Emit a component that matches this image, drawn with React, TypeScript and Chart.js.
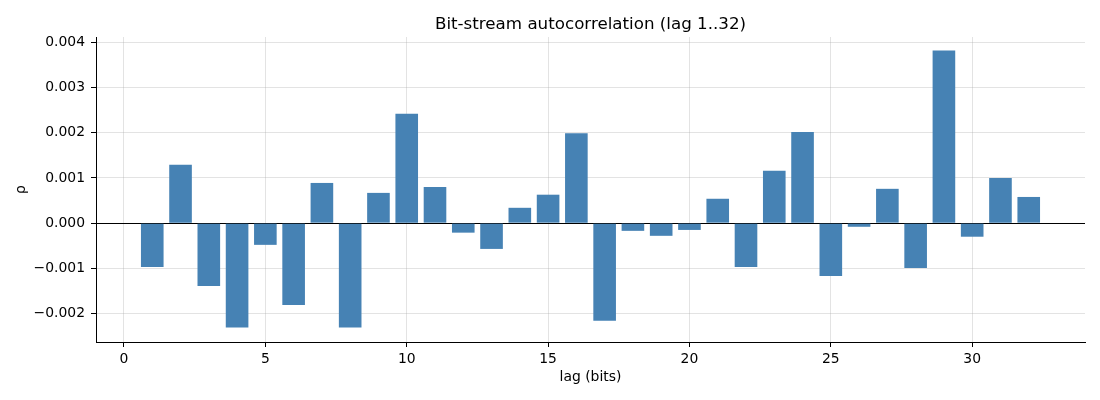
import React, { useEffect, useRef } from "react";
import { Chart, registerables } from "chart.js";

Chart.register(...registerables);

const lags: number[] = [
  1, 2, 3, 4, 5, 6, 7, 8, 9, 10, 11, 12, 13, 14, 15, 16,
  17, 18, 19, 20, 21, 22, 23, 24, 25, 26, 27, 28, 29, 30, 31, 32,
];
const rho: number[] = [
  -0.00097, 0.00129, -0.00139, -0.00231, -0.00048, -0.00181, 0.00089, -0.00231,
  0.00067, 0.00242, 0.0008, -0.00021, -0.00057, 0.00034, 0.00063, 0.00199,
  -0.00216, -0.00017, -0.00028, -0.00015, 0.00054, -0.00097, 0.00116, 0.00202,
  -0.00117, -0.00008, 0.00076, -0.00099, 0.00382, -0.0003, 0.001, 0.00058,
];
const xTicks: number[] = [0, 5, 10, 15, 20, 25, 30];
const yTicks: number[] = [-0.002, -0.001, 0, 0.001, 0.002, 0.003, 0.004];

const TITLE = "Bit-stream autocorrelation (lag 1..32)";
const X_LABEL = "lag (bits)";
const Y_LABEL = "ρ";

const FONT = "'DejaVu Sans', sans-serif";

const axesTitlePlugin = {
  id: "axesTitle",
  afterDraw(chart: any) {
    const { ctx, chartArea } = chart;
    ctx.save();
    ctx.fillStyle = "#000";
    ctx.font = `16.7px ${FONT}`;
    ctx.textAlign = "center";
    ctx.textBaseline = "middle";
    ctx.fillText(TITLE, (chartArea.left + chartArea.right) / 2, 24.5);
    ctx.restore();
  },
};

export default function App() {
  const ref = useRef<HTMLCanvasElement | null>(null);

  useEffect(() => {
    if (!ref.current) return;
    const gridColor = "rgba(176,176,176,0.35)";
    const chart = new Chart(ref.current, {
      type: "bar",
      data: {
        datasets: [
          {
            data: lags.map((l, i) => ({ x: l, y: rho[i] })),
            backgroundColor: "#4682B4",
            borderWidth: 0,
            barPercentage: 0.8,
            categoryPercentage: 1.0,
          },
        ],
      },
      plugins: [axesTitlePlugin],
      options: {
        animation: false,
        responsive: true,
        maintainAspectRatio: false,
        devicePixelRatio: 1,
        layout: { padding: { left: 0, right: 15, top: 37, bottom: 0 } },
        plugins: {
          legend: { display: false },
          tooltip: { enabled: false },
          title: { display: false },
        },
        scales: {
          x: {
            type: "linear",
            min: -0.99,
            max: 33.99,
            offset: false,
            z: 1,
            afterFit: (s: any) => {
              s.height = 58;
            },
            afterBuildTicks: (s: any) => {
              s.ticks = xTicks.map((v) => ({ value: v }));
            },
            grid: {
              offset: false,
              color: gridColor,
              lineWidth: 1,
              tickColor: "#000",
              tickLength: 5,
              tickWidth: 1,
            },
            border: { display: true, color: "#000", width: 1 },
            ticks: {
              color: "#000",
              padding: 4,
              maxRotation: 0,
              font: { family: FONT, size: 13.9 },
              callback: (v: any) => String(v),
            },
            title: {
              display: true,
              text: X_LABEL,
              color: "#000",
              font: { family: FONT, size: 13.9 },
              padding: { top: 0, bottom: 14 },
            },
          },
          y: {
            type: "linear",
            min: -0.00263,
            max: 0.00412,
            z: 1,
            afterFit: (s: any) => {
              s.width = 96;
            },
            afterBuildTicks: (s: any) => {
              s.ticks = yTicks.map((v) => ({ value: v }));
            },
            grid: {
              color: (ctx: any) =>
                ctx.tick && Math.abs(ctx.tick.value) < 1e-12 ? "#000" : gridColor,
              lineWidth: 1,
              tickColor: "#000",
              tickLength: 5,
              tickWidth: 1,
            },
            border: { display: true, color: "#000", width: 1 },
            ticks: {
              color: "#000",
              padding: 6,
              font: { family: FONT, size: 13.9 },
              callback: (v: any) => {
                const n = Number(v);
                return (Math.abs(n) < 1e-12 ? 0 : n).toFixed(3).replace("-", "\u2212");
              },
            },
            title: {
              display: true,
              text: Y_LABEL,
              color: "#000",
              font: { family: FONT, size: 13.9 },
              padding: { top: 13.5, bottom: 0 },
            },
          },
        },
      },
    });
    return () => chart.destroy();
  }, []);

  return (
    <div style={{ position: "fixed", left: 0, top: 0, width: 1100, height: 400, background: "#fff" }}>
      <canvas ref={ref} />
    </div>
  );
}
